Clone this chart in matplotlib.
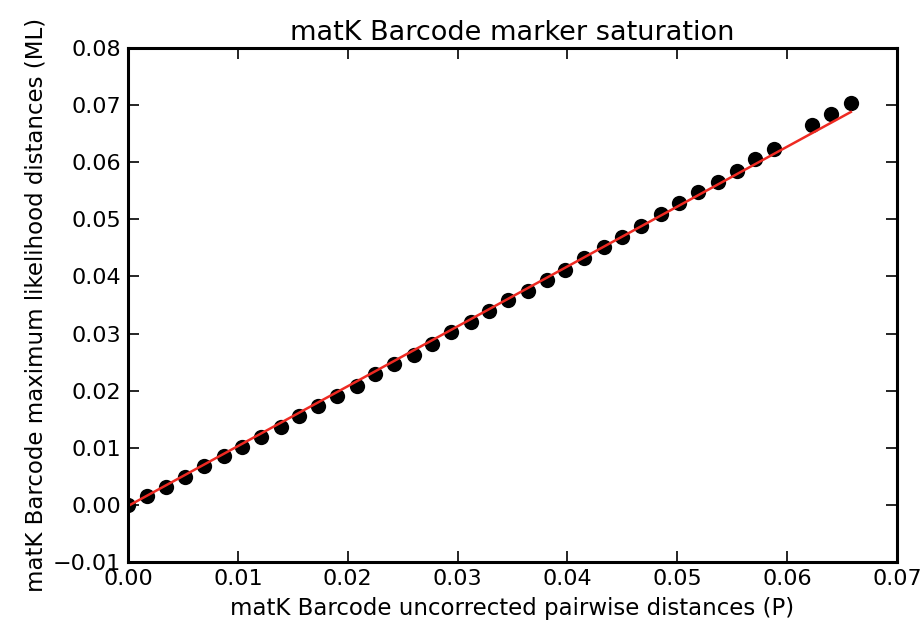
import matplotlib
matplotlib.use("Agg")
import matplotlib.pyplot as plt

# pairwise distances
p_dist = [0.0000, 0.0017, 0.0035, 0.0052, 0.0069, 0.0087, 0.0104, 0.0121,
          0.0139, 0.0156, 0.0173, 0.0190, 0.0208, 0.0225, 0.0242, 0.0260,
          0.0277, 0.0294, 0.0312, 0.0329, 0.0346, 0.0364, 0.0381, 0.0398,
          0.0415, 0.0433, 0.0450, 0.0467, 0.0485, 0.0502, 0.0519, 0.0537,
          0.0554, 0.0571, 0.0588, 0.0623, 0.0640, 0.0658]
ml_dist = [0.0000, 0.0015, 0.0032, 0.0049, 0.0068, 0.0085, 0.0101, 0.0119,
           0.0137, 0.0155, 0.0173, 0.0190, 0.0209, 0.0229, 0.0246, 0.0263,
           0.0282, 0.0302, 0.0320, 0.0339, 0.0358, 0.0375, 0.0393, 0.0412,
           0.0432, 0.0451, 0.0469, 0.0488, 0.0509, 0.0528, 0.0547, 0.0566,
           0.0585, 0.0605, 0.0623, 0.0665, 0.0685, 0.0703]

# fitted line end points
fit_x = [0.0, 0.0658]
fit_y = [-0.0002, 0.0688]

xticks = [0.00, 0.01, 0.02, 0.03, 0.04, 0.05, 0.06, 0.07]
yticks = [-0.01, 0.00, 0.01, 0.02, 0.03, 0.04, 0.05, 0.06, 0.07, 0.08]

fig = plt.figure(figsize=(9.24, 6.28), dpi=100)
ax = fig.add_axes([128/924, 66/628, 769/924, 514/628])

ax.plot(p_dist, ml_dist, 'o', color='black', markersize=11, markeredgewidth=0)
ax.plot(fit_x, fit_y, '-', color='#ee2a22', linewidth=1.8)

ax.set_xlim(0, 0.07)
ax.set_ylim(-0.01, 0.08)
ax.set_xticks(xticks)
ax.set_yticks(yticks)
ax.set_xticklabels(["%.2f" % t for t in xticks])
ax.set_yticklabels(["\u2212%.2f" % -t if t < 0 else "%.2f" % t for t in yticks])

ax.tick_params(direction='in', top=True, right=True, length=8, width=1.2,
               labelsize=16, pad=5)
for s in ax.spines.values():
    s.set_linewidth(2.2)

ax.set_title("matK Barcode marker saturation", fontsize=19.5, pad=6)
ax.set_xlabel("matK Barcode uncorrected pairwise distances (P)", fontsize=16.5,
              labelpad=6)
ax.set_ylabel("matK Barcode maximum likelihood distances (ML)", fontsize=16.5,
              labelpad=4)

fig.savefig("out.png", dpi=100)
